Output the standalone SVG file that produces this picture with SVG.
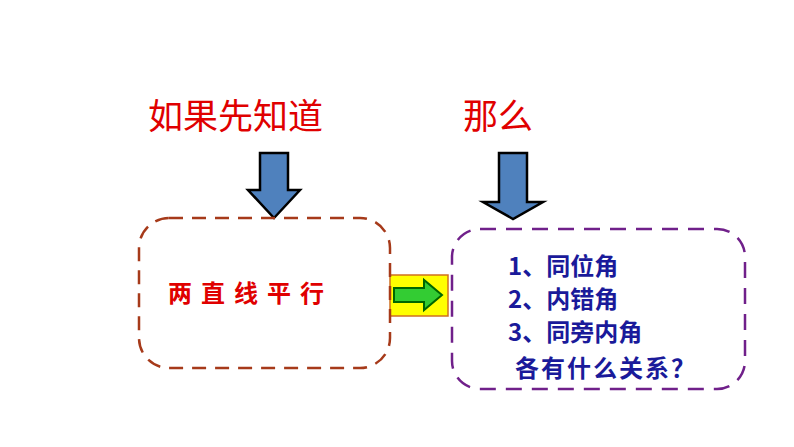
<svg xmlns="http://www.w3.org/2000/svg" width="794" height="447" viewBox="0 0 794 447">
<style>
.t{font-family:"Noto Sans CJK SC","Liberation Sans",sans-serif}
.blue{fill:#4f81bd;stroke:#000;stroke-width:2.5}
.n{fill:#1a1a9a;font-weight:bold;font-size:24px}
</style>
<rect width="794" height="447" fill="#fff"/>
<g id="title1"><text class="t" x="148" y="129" font-size="35" fill="#e00000">如果先知道</text></g>
<g id="title2"><text class="t" x="463" y="129" font-size="35" fill="#e00000">那么</text></g>
<g id="connectors">
<polygon class="blue" points="260,153 288,153 288,190 300,190 274,218 248,190 260,190"/>
<polygon class="blue" points="499,153 527,153 527,202 543,202 513,219 483,202 499,202"/>
<rect x="390" y="275" width="58" height="41" fill="#ffff00" stroke="#d07020" stroke-width="1.5"/>
<polygon points="394,288 424,288 424,280 442,295 424,310 424,302 394,302" fill="#33cc33" stroke="#006600" stroke-width="2"/>
</g>
<g id="left">
<rect x="139" y="218" width="251" height="150" rx="30" fill="none" stroke="#a63a1a" stroke-width="2.5" stroke-dasharray="14,9"/>
<text class="t" x="168" y="302" font-size="24" font-weight="bold" fill="#e00000" letter-spacing="9">两直线平行</text>
</g>
<g id="right">
<rect x="452" y="229" width="293" height="160" rx="28" fill="none" stroke="#70208a" stroke-width="2.5" stroke-dasharray="16,10"/>
<text class="t n" x="508" y="275">1、同位角</text>
<text class="t n" x="508" y="308">2、内错角</text>
<text class="t n" x="508" y="341">3、同旁内角</text>
<text class="t n" x="515" y="377" letter-spacing="2">各有什么关系？</text>
</g>
</svg>
